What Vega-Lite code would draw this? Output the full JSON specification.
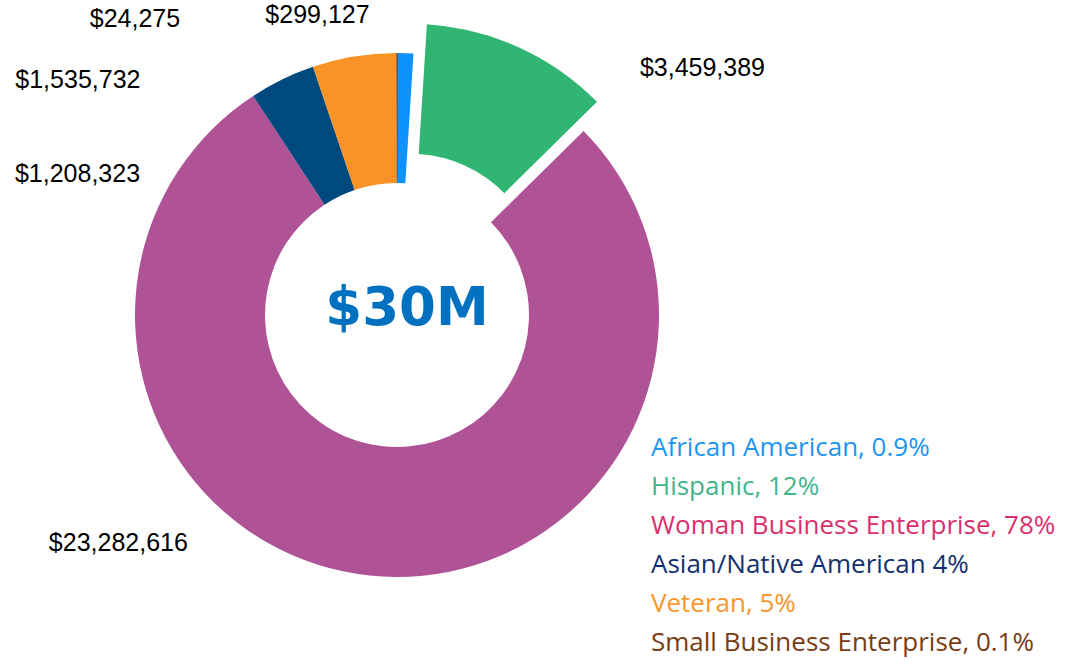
{
  "$schema": "https://vega.github.io/schema/vega-lite/v6.json",
  "width": 794,
  "height": 630,
  "padding": {"left": 0, "top": 0, "right": 4, "bottom": 8},
  "autosize": {"type": "pad"},
  "background": "white",
  "config": {"view": {"stroke": null}},
  "layer": [
    {
      "data": {"values": [
        {"category": "African American", "legend": "African American, 0.9%", "value": 299127, "label": "$299,127"},
        {"category": "Hispanic", "legend": "Hispanic, 12%", "value": 3459389, "label": "$3,459,389"},
        {"category": "Woman Business Enterprise", "legend": "Woman Business Enterprise, 78%", "value": 23282616, "label": "$23,282,616"},
        {"category": "Asian/Native American", "legend": "Asian/Native American 4%", "value": 1208323, "label": "$1,208,323"},
        {"category": "Veteran", "legend": "Veteran, 5%", "value": 1535732, "label": "$1,535,732"},
        {"category": "Small Business Enterprise", "legend": "Small Business Enterprise, 0.1%", "value": 24275, "label": "$24,275"}
      ]},
      "transform": [
        {"stack": "value", "groupby": [], "as": ["v0", "v1"]},
        {"calculate": "(datum.v0 + datum.v1) / 2", "as": "vmid"}
      ],
      "layer": [
        {
          "transform": [{"filter": "datum.category != 'Hispanic'"}],
          "mark": {"type": "arc", "radius": 262, "radius2": 132},
          "encoding": {
            "theta": {"field": "v0", "type": "quantitative"},
            "theta2": {"field": "v1"},
            "color": {
              "field": "legend",
              "type": "nominal",
              "sort": null,
              "scale": {
                "domain": ["African American, 0.9%", "Hispanic, 12%", "Woman Business Enterprise, 78%", "Asian/Native American 4%", "Veteran, 5%", "Small Business Enterprise, 0.1%"],
                "range": ["#0D92FF", "#31B573", "#B05296", "#00497F", "#F99325", "#7B3A0E"]
              },
              "legend": {
                "orient": "none",
                "legendX": 625,
                "legendY": 435,
                "title": null,
                "symbolSize": 0,
                "symbolOpacity": 0,
                "symbolStrokeWidth": 0,
                "labelOffset": 0,
                "padding": 0,
                "labelFont": "Open Sans",
                "labelFontSize": 26,
                "labelLimit": 600,
                "rowPadding": 13,
                "encode": {
                  "labels": {
                    "update": {
                      "fill": {"signal": "['#1E95EE','#43B58B','#DC306C','#13316F','#F8962F','#7A3B12'][indexof(['African American, 0.9%','Hispanic, 12%','Woman Business Enterprise, 78%','Asian/Native American 4%','Veteran, 5%','Small Business Enterprise, 0.1%'], datum.label)]"}
                    }
                  }
                }
              }
            }
          }
        },
        {
          "transform": [{"filter": "datum.category == 'Hispanic'"}],
          "mark": {"type": "arc", "radius": 262, "radius2": 132, "xOffset": 13.4, "yOffset": -29.2},
          "encoding": {
            "theta": {"field": "v0", "type": "quantitative"},
            "theta2": {"field": "v1"},
            "color": {"field": "legend", "type": "nominal", "sort": null}
          }
        },
        {
          "transform": [{"filter": "datum.category == 'African American'"}],
          "mark": {"type": "text", "radius": 300, "dx": -89, "dy": 0, "font": "Liberation Sans", "fontSize": 25, "color": "#000000", "align": "center", "baseline": "middle"},
          "encoding": {"theta": {"field": "vmid", "type": "quantitative"}, "text": {"field": "label"}}
        },
        {
          "transform": [{"filter": "datum.category == 'Hispanic'"}],
          "mark": {"type": "text", "radius": 300, "dx": 181, "dy": 26, "font": "Liberation Sans", "fontSize": 25, "color": "#000000", "align": "center", "baseline": "middle"},
          "encoding": {"theta": {"field": "vmid", "type": "quantitative"}, "text": {"field": "label"}}
        },
        {
          "transform": [{"filter": "datum.category == 'Woman Business Enterprise'"}],
          "mark": {"type": "text", "radius": 300, "dx": -247, "dy": -70, "font": "Liberation Sans", "fontSize": 25, "color": "#000000", "align": "center", "baseline": "middle"},
          "encoding": {"theta": {"field": "vmid", "type": "quantitative"}, "text": {"field": "label"}}
        },
        {
          "transform": [{"filter": "datum.category == 'Asian/Native American'"}],
          "mark": {"type": "text", "radius": 300, "dx": -188, "dy": 129, "font": "Liberation Sans", "fontSize": 25, "color": "#000000", "align": "center", "baseline": "middle"},
          "encoding": {"theta": {"field": "vmid", "type": "quantitative"}, "text": {"field": "label"}}
        },
        {
          "transform": [{"filter": "datum.category == 'Veteran'"}],
          "mark": {"type": "text", "radius": 300, "dx": -270, "dy": 61, "font": "Liberation Sans", "fontSize": 25, "color": "#000000", "align": "center", "baseline": "middle"},
          "encoding": {"theta": {"field": "vmid", "type": "quantitative"}, "text": {"field": "label"}}
        },
        {
          "transform": [{"filter": "datum.category == 'Small Business Enterprise'"}],
          "mark": {"type": "text", "radius": 300, "dx": -262, "dy": 4, "font": "Liberation Sans", "fontSize": 25, "color": "#000000", "align": "center", "baseline": "middle"},
          "encoding": {"theta": {"field": "vmid", "type": "quantitative"}, "text": {"field": "label"}}
        }
      ]
    },
    {
      "data": {"values": [{"total": "$30M"}]},
      "mark": {"type": "text", "font": "DejaVu Sans", "fontWeight": "bold", "fontSize": 53, "color": "#0070C0", "align": "center", "baseline": "middle", "dx": 10, "dy": -6},
      "encoding": {"text": {"field": "total"}}
    }
  ]
}
